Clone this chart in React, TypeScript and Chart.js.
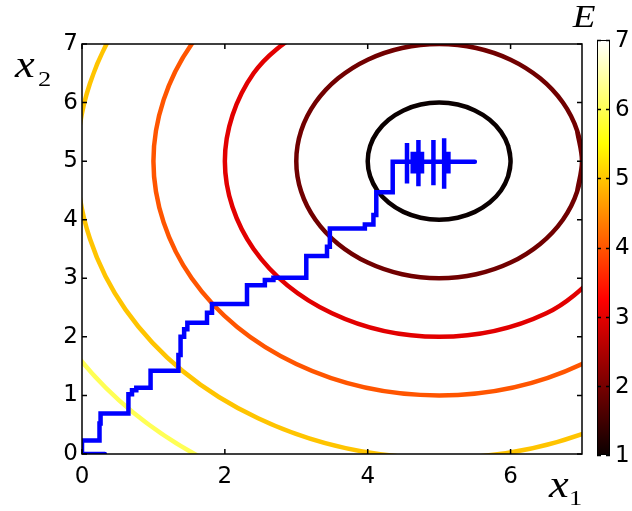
import React, { useEffect, useRef } from "react";
import { Chart, registerables } from "chart.js";

Chart.register(...registerables);

// ---- axis ticks ----
const xTicks = [0, 2, 4, 6];
const yTicks = [0, 1, 2, 3, 4, 5, 6, 7];
const colorbarTicks = [1, 2, 3, 4, 5, 6, 7];

// ---- contour levels (E) and their colours (hot colormap, E from 1 to 7) ----
const contourLevels = [1, 2, 3, 4, 5, 6];
const contourColors = ["#0a0000", "#710000", "#e20000", "#ff5500", "#ffc400", "#ffff55"];

// ---- contour lines: [x1, x2] ----
const contourE1: [number, number][] = [
  [5.966, 4.741], [6, 5], [5.966, 5.259], [5.866, 5.5], [5.707, 5.707], [5.5, 5.866], [5.259, 5.966],
  [5, 6], [4.741, 5.966], [4.5, 5.866], [4.293, 5.707], [4.134, 5.5], [4.034, 5.259], [4, 5],
  [4.034, 4.741], [4.134, 4.5], [4.293, 4.293], [4.5, 4.134], [4.741, 4.034], [5, 4],
  [5.259, 4.034], [5.5, 4.134], [5.707, 4.293], [5.866, 4.5], [5.966, 4.741], [6, 5], [5.966, 5.259],
];
const contourE2: [number, number][] = [
  [6.932, 4.482], [7, 5], [6.932, 5.518], [6.732, 6], [6.414, 6.414], [6, 6.732], [5.518, 6.932],
  [5, 7], [4.482, 6.932], [4, 6.732], [3.586, 6.414], [3.268, 6], [3.068, 5.518], [3, 5],
  [3.068, 4.482], [3.268, 4], [3.586, 3.586], [4, 3.268], [4.482, 3.068], [5, 3],
  [5.518, 3.068], [6, 3.268], [6.414, 3.586], [6.732, 4], [6.932, 4.482], [7, 5], [6.932, 5.518],
];
const contourE3: [number, number][] = [
  [3.5, 7.598], [2.402, 6.5], [2, 5], [2.402, 3.5], [3.5, 2.402], [5, 2], [6.5, 2.402], [7.598, 3.5],
];
const contourE4: [number, number][] = [
  [3, 8.464], [1.536, 7], [1, 5], [1.536, 3], [3, 1.536], [5, 1], [7, 1.536], [8.464, 3],
];
const contourE5: [number, number][] = [
  [2.465, 9.391], [0.609, 7.535], [-0.07, 5], [0.609, 2.465], [2.465, 0.609], [5, -0.07], [7.535, 0.609], [9.391, 2.465],
];
const contourE6: [number, number][] = [
  [-0.248, 8.03], [-1.06, 5], [-0.248, 1.97], [1.97, -0.248], [5, -1.06], [8.03, -0.248],
];
const contours = [contourE1, contourE2, contourE3, contourE4, contourE5, contourE6];
const contourTension = [0.34, 0.34, 0.35, 0.35, 0.35, 0.35];

// ---- search path (blue) ----
const pathX1 = [
  0.32, 0.0, 0.0, 0.245, 0.245, 0.26, 0.26, 0.65, 0.65, 0.7, 0.7, 0.76, 0.76, 0.96,
  0.96, 1.35, 1.35, 1.38, 1.38, 1.43, 1.43, 1.475, 1.475, 1.75, 1.75, 1.82, 1.82, 2.31,
  2.31, 2.56, 2.56, 2.68, 2.68, 3.14, 3.14, 3.43, 3.43, 3.47, 3.47, 3.96, 3.96, 4.08,
  4.08, 4.12, 4.12, 4.35, 4.35,
  4.55, 4.55, 4.55, 4.55,
  4.63, 4.63, 4.63, 4.63,
  4.67, 4.67, 4.67, 4.67,
  4.71, 4.71, 4.71, 4.71,
  4.76, 4.76, 4.76, 4.76,
  4.92, 4.92, 4.92, 4.92,
  5.07, 5.07, 5.07, 5.07,
  5.13, 5.13, 5.13, 5.13,
  5.5,
];
const pathX2 = [
  0.0, 0.0, 0.23, 0.23, 0.52, 0.52, 0.69, 0.69, 1.02, 1.02, 1.09, 1.09, 1.13, 1.13,
  1.42, 1.42, 1.69, 1.69, 2.0, 2.0, 2.13, 2.13, 2.24, 2.24, 2.41, 2.41, 2.56, 2.56,
  2.88, 2.88, 2.97, 2.97, 3.01, 3.01, 3.38, 3.38, 3.54, 3.54, 3.85, 3.85, 3.92, 3.92,
  4.08, 4.08, 4.47, 4.47, 4.99,
  4.99, 5.31, 4.62, 4.99,
  4.99, 5.16, 4.79, 4.99,
  4.99, 5.16, 4.79, 4.99,
  4.99, 5.36, 4.57, 4.99,
  4.99, 5.16, 4.79, 4.99,
  4.99, 5.36, 4.59, 4.99,
  4.99, 5.39, 4.53, 4.99,
  4.99, 5.16, 4.79, 4.99,
  4.99,
];

const TICK_FONT = "DejaVu Sans";
const SERIF = "'Liberation Serif', 'Times New Roman', serif";

function drawStretched(
  ctx: CanvasRenderingContext2D,
  text: string,
  x: number,
  y: number,
  font: string,
  align: CanvasTextAlign = "left",
  stretch = 1.2
) {
  ctx.save();
  ctx.font = font;
  ctx.textAlign = align;
  ctx.textBaseline = "alphabetic";
  ctx.fillStyle = "#000";
  ctx.translate(x, y);
  ctx.scale(stretch, 1);
  ctx.fillText(text, 0, 0);
  ctx.restore();
}

const framePlugin = {
  id: "frameAndColorbar",
  afterDatasetsDraw(chart: any) {
    const { ctx, chartArea: a, scales } = chart;
    const xs = scales.x;
    const ys = scales.y;
    ctx.save();
    // box
    ctx.strokeStyle = "#000";
    ctx.lineWidth = 1.5;
    ctx.strokeRect(a.left, a.top, a.right - a.left, a.bottom - a.top);
    // inward ticks
    ctx.beginPath();
    const tl = 5;
    xTicks.forEach((v) => {
      const p = xs.getPixelForValue(v);
      ctx.moveTo(p, a.bottom);
      ctx.lineTo(p, a.bottom - tl);
      ctx.moveTo(p, a.top);
      ctx.lineTo(p, a.top + tl);
    });
    yTicks.forEach((v) => {
      const p = ys.getPixelForValue(v);
      ctx.moveTo(a.left, p);
      ctx.lineTo(a.left + tl, p);
      ctx.moveTo(a.right, p);
      ctx.lineTo(a.right - tl, p);
    });
    ctx.stroke();

    // colorbar
    const cbL = a.right + 15;
    const cbR = cbL + 13;
    const cbT = a.top - 4;
    const cbB = a.bottom + 1;
    const eMin = colorbarTicks[0];
    const eMax = colorbarTicks[colorbarTicks.length - 1];
    const toPix = (v: number) => cbB - ((v - eMin) / (eMax - eMin)) * (cbB - cbT);
    const g = ctx.createLinearGradient(0, cbB, 0, cbT);
    g.addColorStop(0, "#0b0000");
    g.addColorStop(0.375, "#ff0000");
    g.addColorStop(0.75, "#ffff00");
    g.addColorStop(1, "#ffffff");
    ctx.fillStyle = g;
    ctx.fillRect(cbL, cbT, cbR - cbL, cbB - cbT);
    ctx.lineWidth = 1;
    ctx.strokeStyle = "#000";
    ctx.strokeRect(cbL + 0.5, cbT + 0.5, cbR - cbL - 1, cbB - cbT - 1);
    ctx.beginPath();
    colorbarTicks.forEach((v) => {
      const p = Math.round(toPix(v)) + 0.5;
      ctx.moveTo(cbL, p);
      ctx.lineTo(cbL + 4, p);
      ctx.moveTo(cbR, p);
      ctx.lineTo(cbR - 4, p);
    });
    ctx.lineWidth = 1.5;
    ctx.stroke();
    ctx.fillStyle = "#000";
    ctx.font = `23px ${TICK_FONT}`;
    ctx.textAlign = "left";
    ctx.textBaseline = "middle";
    colorbarTicks.forEach((v) => {
      ctx.fillText(String(v), cbR + 5, toPix(v) + 1);
    });
    ctx.restore();

    // labels
    drawStretched(ctx, "E", cbL - 13, 27, `italic 31px ${SERIF}`, "center");
    drawStretched(ctx, "x", 15, 77, `italic 37px ${SERIF}`);
    drawStretched(ctx, "2", 38, 86, `22px ${SERIF}`);
    drawStretched(ctx, "x", 549, 497, `italic 37px ${SERIF}`);
    drawStretched(ctx, "1", 569, 505, `22px ${SERIF}`);
  },
};

export default function App() {
  const canvasRef = useRef<HTMLCanvasElement | null>(null);

  useEffect(() => {
    const canvas = canvasRef.current;
    if (!canvas) return;

    const contourSets = contours.map((pts, i) => ({
      label: `E = ${contourLevels[i]}`,
      data: pts.map(([x, y]) => ({ x, y })),
      borderColor: contourColors[i],
      borderWidth: 4.5,
      tension: contourTension[i],
      capBezierPoints: false,
      pointRadius: 0,
      fill: false,
      clip: 0,
    }));

    const pathSet = {
      label: "path",
      data: pathX1.map((x, i) => ({ x, y: pathX2[i] })),
      borderColor: "#0000ff",
      borderWidth: 4.5,
      tension: 0,
      pointRadius: 0,
      fill: false,
      clip: 0,
      borderJoinStyle: "miter" as const,
      borderCapStyle: "round" as const,
    };

    const tickFont = { family: TICK_FONT, size: 23 };

    const chart = new Chart(canvas, {
      type: "line",
      data: { datasets: [pathSet, ...contourSets] as any },
      options: {
        responsive: false,
        maintainAspectRatio: false,
        animation: false,
        layout: { padding: { left: 0, right: 50, top: 44, bottom: 0 } },
        plugins: { legend: { display: false }, tooltip: { enabled: false } },
        elements: { point: { radius: 0 }, line: { capBezierPoints: false } },
        scales: {
          x: {
            type: "linear",
            min: 0,
            max: 7,
            grid: { display: false, drawTicks: false },
            border: { display: false },
            ticks: { font: tickFont, color: "#000", padding: 9, maxRotation: 0, autoSkip: false },
            afterBuildTicks: (s: any) => {
              s.ticks = xTicks.map((v) => ({ value: v }));
            },
            afterFit: (s: any) => {
              s.height = 57;
            },
          },
          y: {
            type: "linear",
            min: 0,
            max: 7,
            grid: { display: false, drawTicks: false },
            border: { display: false },
            ticks: { font: tickFont, color: "#000", padding: 4, autoSkip: false },
            afterBuildTicks: (s: any) => {
              s.ticks = yTicks.map((v) => ({ value: v }));
            },
            afterFit: (s: any) => {
              s.width = 82;
            },
          },
        },
      },
      plugins: [framePlugin],
    });

    return () => chart.destroy();
  }, []);

  return (
    <div style={{ position: "fixed", left: 0, top: 0, width: 632, height: 511, background: "#fff" }}>
      <canvas ref={canvasRef} width={632} height={511} style={{ display: "block" }} />
    </div>
  );
}
